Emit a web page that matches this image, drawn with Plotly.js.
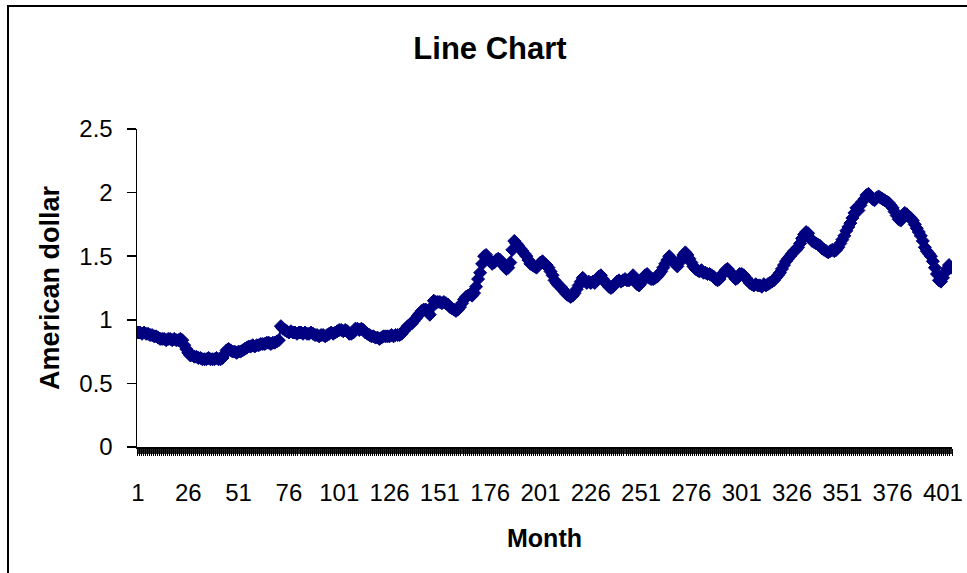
<!DOCTYPE html>
<html>
<head>
<meta charset="utf-8">
<script src="https://cdn.plot.ly/plotly-3.0.1.min.js"></script>
<style>html,body{margin:0;padding:0;background:#fff;}#chart{width:967px;height:573px;}</style>
</head>
<body>
<div id="chart"></div>
<script>
// Monthly values (American dollar), months 1..405
const values = [
  0.90,0.90,0.89,0.90,0.89,0.89,0.88,0.88,0.87,0.87,0.86,0.85,0.85,0.85,0.84,0.85,0.85,0.84,0.85,0.84,0.84,0.85,0.84,0.80,0.77,
  0.74,0.72,0.72,0.71,0.71,0.70,0.70,0.69,0.69,0.69,0.70,0.69,0.69,0.69,0.70,0.69,0.69,0.70,0.73,0.76,0.77,0.76,0.75,0.75,0.74,
  0.75,0.75,0.76,0.77,0.78,0.79,0.79,0.80,0.79,0.80,0.80,0.81,0.81,0.81,0.82,0.82,0.81,0.82,0.82,0.83,0.84,0.95,0.93,0.92,0.91,
  0.90,0.91,0.90,0.90,0.89,0.90,0.90,0.89,0.90,0.89,0.89,0.90,0.89,0.88,0.88,0.87,0.88,0.88,0.87,0.88,0.89,0.90,0.89,0.90,0.91,
  0.92,0.92,0.91,0.92,0.91,0.89,0.89,0.90,0.93,0.93,0.92,0.93,0.92,0.90,0.89,0.88,0.87,0.87,0.86,0.86,0.85,0.86,0.87,0.87,0.87,
  0.87,0.88,0.87,0.88,0.88,0.88,0.89,0.91,0.93,0.95,0.96,0.97,0.99,1.01,1.03,1.05,1.07,1.08,1.08,1.06,1.04,1.10,1.15,1.14,1.14,
  1.14,1.13,1.14,1.13,1.12,1.10,1.09,1.08,1.07,1.08,1.10,1.13,1.16,1.18,1.19,1.20,1.19,1.21,1.26,1.32,1.37,1.44,1.50,1.51,1.48,
  1.46,1.44,1.45,1.47,1.48,1.47,1.45,1.42,1.40,1.41,1.45,1.55,1.62,1.60,1.58,1.56,1.54,1.52,1.50,1.47,1.44,1.43,1.42,1.41,1.43,
  1.45,1.46,1.44,1.43,1.41,1.38,1.35,1.31,1.29,1.27,1.26,1.24,1.22,1.20,1.19,1.18,1.19,1.21,1.24,1.27,1.30,1.33,1.31,1.29,1.30,
  1.29,1.30,1.29,1.31,1.34,1.35,1.32,1.30,1.28,1.26,1.25,1.26,1.28,1.30,1.31,1.30,1.31,1.32,1.31,1.31,1.33,1.35,1.31,1.28,1.27,
  1.29,1.32,1.35,1.36,1.33,1.32,1.32,1.33,1.34,1.36,1.38,1.41,1.44,1.47,1.50,1.48,1.46,1.44,1.42,1.45,1.48,1.51,1.53,1.51,1.48,
  1.45,1.42,1.40,1.39,1.38,1.39,1.37,1.37,1.36,1.36,1.35,1.34,1.32,1.31,1.32,1.35,1.37,1.39,1.40,1.38,1.36,1.34,1.32,1.33,1.36,
  1.36,1.35,1.33,1.31,1.29,1.28,1.27,1.28,1.27,1.27,1.26,1.28,1.27,1.28,1.29,1.30,1.31,1.33,1.35,1.37,1.40,1.43,1.46,1.48,1.50,
  1.52,1.54,1.55,1.57,1.60,1.64,1.67,1.69,1.68,1.64,1.62,1.61,1.60,1.59,1.58,1.56,1.55,1.54,1.53,1.54,1.55,1.54,1.55,1.57,1.60,
  1.63,1.66,1.70,1.73,1.76,1.80,1.84,1.88,1.86,1.90,1.93,1.95,1.98,1.99,1.97,1.95,1.94,1.96,1.97,1.96,1.95,1.94,1.93,1.92,1.90,
  1.88,1.85,1.82,1.79,1.78,1.80,1.84,1.83,1.81,1.80,1.78,1.75,1.72,1.69,1.66,1.62,1.57,1.54,1.52,1.50,1.46,1.41,1.36,1.31,1.30,
  1.33,1.37,1.40,1.43,1.41
];
// Month numbers (category index)
const months = values.map((v, i) => i + 1);
// X tick labels shown (every 25th month)
const xTickLabels = [1, 26, 51, 76, 101, 126, 151, 176, 201, 226, 251, 276, 301, 326, 351, 376, 401];
// Y tick values
const yTicks = [0, 0.5, 1, 1.5, 2, 2.5];

const FONT = 'Arial, "Liberation Sans", sans-serif';

const W = 967, H = 573;
const L = 137, R = 15, T = 129, B = 126;
const pw = W - L - R, ph = H - T - B;
// frame rectangle in paper coords
const fx0 = (8 - L) / pw, fx1 = (990 - L) / pw;
const fy1 = (H - B - 6) / ph, fy0 = (H - B - 580) / ph;
const TICKLEN = 7;

const trace = {
  x: months,
  y: values,
  type: 'scatter',
  mode: 'lines+markers',
  line: {color: '#000080', width: 2},
  marker: {symbol: 'diamond', size: 10, color: '#000080', line: {color: '#000080', width: 1}},
  hoverinfo: 'x+y'
};

const layout = {
  width: W, height: H,
  margin: {l: L, r: R, t: T, b: B, pad: 0},
  paper_bgcolor: '#ffffff',
  plot_bgcolor: '#ffffff',
  showlegend: false,
  font: {family: FONT, color: '#000'},
  title: {
    text: '<b>Line Chart</b>',
    font: {family: FONT, size: 31, color: '#000'},
    xref: 'container', yref: 'container',
    x: 490 / W, xanchor: 'center',
    y: 1 - 48 / H, yanchor: 'middle'
  },
  xaxis: {
    range: [0.5, values.length + 0.5],
    tickmode: 'array',
    tickvals: xTickLabels,
    ticktext: xTickLabels.map(String),
    ticks: '',
    tickfont: {family: FONT, size: 24, color: '#000'},
    ticklabelstandoff: 24,
    showline: true, linecolor: '#000', linewidth: 1.5,
    showgrid: false, zeroline: false,
    minor: {tick0: 0.5, dtick: 1, ticks: 'outside', ticklen: TICKLEN, tickwidth: 1, tickcolor: '#000', showgrid: false},
    title: {text: '<b>Month</b>', font: {family: FONT, size: 25, color: '#000'}, standoff: 24}
  },
  yaxis: {
    range: [0, 2.5],
    tickmode: 'array',
    tickvals: yTicks,
    ticktext: yTicks.map(String),
    ticks: 'outside', ticklen: 9, tickwidth: 1.5, tickcolor: '#000',
    tickfont: {family: FONT, size: 24, color: '#000'},
    ticklabelstandoff: 9,
    showline: true, linecolor: '#000', linewidth: 1.5,
    showgrid: false, zeroline: false,
    title: {text: '<b>American dollar</b>', font: {family: FONT, size: 27, color: '#000'}, standoff: 12}
  },
  shapes: [
    {
      type: 'rect', xref: 'paper', yref: 'paper',
      x0: fx0, x1: fx1, y0: fy0, y1: fy1,
      line: {color: '#000', width: 2}, fillcolor: 'rgba(0,0,0,0)', layer: 'below'
    },
    {
      type: 'rect', xref: 'paper', yref: 'paper',
      x0: 0, x1: 1, y0: -TICKLEN / ph, y1: 0,
      line: {width: 0}, fillcolor: '#262626', layer: 'below'
    }
  ]
};

Plotly.newPlot('chart', [trace], layout, {displayModeBar: false, staticPlot: true});
</script>
</body>
</html>
